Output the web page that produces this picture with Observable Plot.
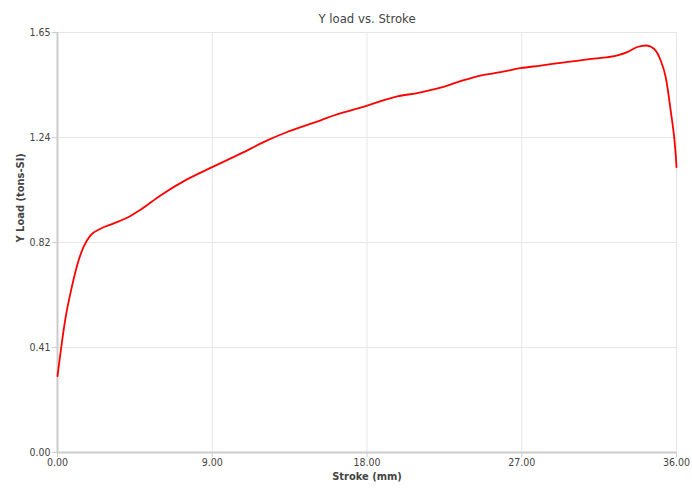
<!DOCTYPE html>
<html>
<head>
<meta charset="utf-8">
<script src="https://cdn.jsdelivr.net/npm/d3@7"></script>
<script src="https://cdn.jsdelivr.net/npm/@observablehq/plot@0.6"></script>
<style>
  html, body { margin: 0; padding: 0; background: #fff; }
  #chart { width: 692px; height: 491px; }
</style>
</head>
<body>
<div id="chart"></div>
<script>
const titleText = "Y load vs. Stroke";
const xLabel = "Stroke (mm)";
const yLabel = "Y Load (tons-SI)";

const stroke = [0, 0.47, 0.85, 1.14, 1.53, 1.92, 2.5, 3.28, 4.05, 4.83, 5.99, 7.35, 9.0, 10.65, 12.2, 13.36, 14.14, 15.3, 16.07, 18.02, 19.76, 20.92, 22.28, 23.44, 24.6, 25.77, 26.93, 28.1, 29.5, 31.2, 32.56, 33.14, 33.72, 34.26, 34.69, 35.08, 35.37, 35.66, 35.95, 36.0];
const load = [0.30, 0.53, 0.655, 0.735, 0.81, 0.853, 0.879, 0.90, 0.922, 0.954, 1.01, 1.066, 1.121, 1.174, 1.226, 1.259, 1.278, 1.305, 1.324, 1.363, 1.399, 1.412, 1.433, 1.459, 1.481, 1.494, 1.510, 1.520, 1.533, 1.547, 1.560, 1.573, 1.593, 1.599, 1.586, 1.540, 1.475, 1.344, 1.174, 1.121];

const xTicks = [0, 9, 18, 27, 36];
const xTickLabels = ["0.00", "9.00", "18.00", "27.00", "36.00"];
const yTicks = [0, 0.4125, 0.825, 1.2375, 1.65];
const yTickLabels = ["0.00", "0.41", "0.82", "1.24", "1.65"];

const data = stroke.map((s, i) => ({stroke: s, load: load[i]}));
const font = "'DejaVu Sans Condensed', 'DejaVu Sans', sans-serif";

const chart = Plot.plot({
  width: 692,
  height: 491,
  marginTop: 32,
  marginBottom: 39,
  marginLeft: 57,
  marginRight: 16,
  style: {fontFamily: font, fontSize: "10px", color: "#444", background: "#fff"},
  x: {domain: [0, 36], label: null},
  y: {domain: [0, 1.65], label: null},
  marks: [
    Plot.gridX(xTicks, {stroke: "#e6e6e6", strokeOpacity: 1, strokeWidth: 1}),
    Plot.gridY(yTicks, {stroke: "#e6e6e6", strokeOpacity: 1, strokeWidth: 1}),
    Plot.axisX(xTicks, {tickSize: 5, stroke: "#ccc", tickFormat: (d, i) => xTickLabels[i], tickPadding: 1, fill: "#444", fontSize: 10.5, label: null}),
    Plot.axisY(yTicks, {tickSize: 5, stroke: "#ccc", tickFormat: (d, i) => yTickLabels[i], tickPadding: 2, fill: "#444", fontSize: 10.5, label: null}),
    Plot.ruleX([0], {stroke: "#ccc", strokeWidth: 2}),
    Plot.ruleY([0], {stroke: "#ccc", strokeWidth: 2}),
    Plot.line(data, {x: "stroke", y: "load", stroke: "red", strokeWidth: 1.8, curve: "monotone-x"}),
    Plot.text([titleText], {frameAnchor: "top", dy: -19, fontSize: 13, fill: "#444", fontFamily: font}),
    Plot.text([xLabel], {frameAnchor: "bottom", dy: 27, fontSize: 11, fontWeight: "bold", fill: "#444", fontFamily: font}),
    Plot.text([yLabel], {frameAnchor: "left", dx: -37, rotate: -90, fontSize: 11, fontWeight: "bold", fill: "#444", fontFamily: font})
  ]
});
document.getElementById("chart").appendChild(chart);
</script>
</body>
</html>
